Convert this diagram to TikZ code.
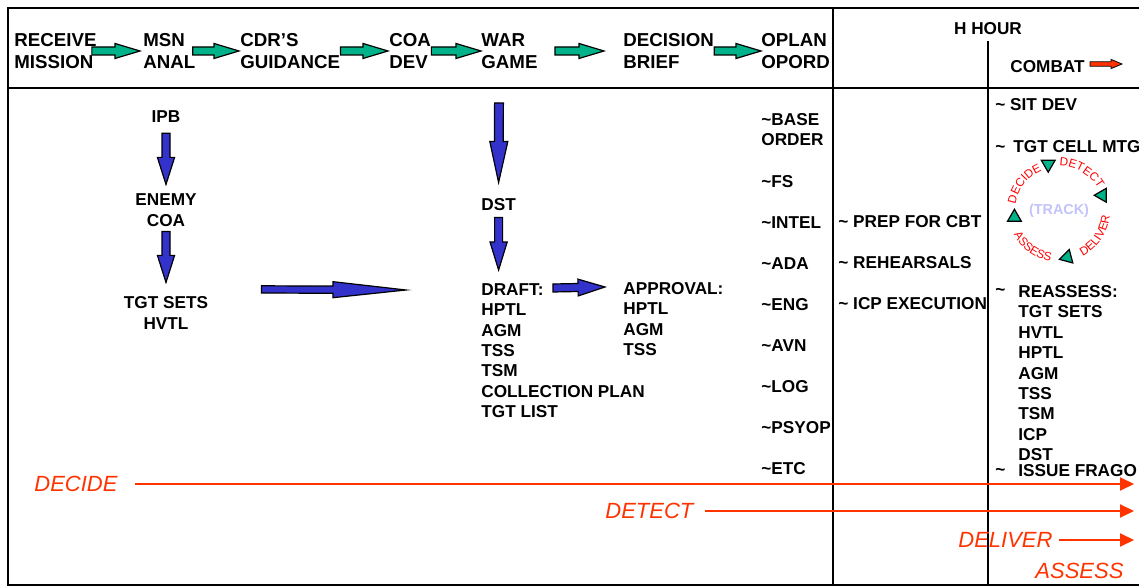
\documentclass[tikz,border=0pt]{standalone}
\usepackage{fontspec}
\setmainfont{Liberation Sans}
\usetikzlibrary{calc}
\usetikzlibrary{arrows.meta}
\usetikzlibrary{shapes.geometric}
\usetikzlibrary{decorations.text}
\definecolor{stepgreen}{RGB}{0,178,137}
\definecolor{flowblue}{RGB}{51,51,204}
\definecolor{phasered}{RGB}{255,51,0}
\definecolor{tracklilac}{RGB}{195,195,250}
\newcommand*{\hdrfont  }{\fontsize{9.35}{11}\selectfont\bfseries}
\newcommand*{\bodyfont }{\fontsize{8.6}{10.2}\selectfont\bfseries}
\newcommand*{\phasefont}{\fontsize{11}{13}\selectfont\itshape}
\newcommand*{\ringfont }{\fontsize{5.9}{7}\selectfont\color{red}}
\newcommand*{\sqig     }{\textasciitilde}
\newcommand*{\gshaft   }{2pt}
\newcommand*{\ghead    }{3.75pt}
\newcommand*{\glen     }{12.5pt}
% #1 style, #2 from, #3 to, #4 half shaft, #5 half head, #6 head length
\newcommand*{\blockarrow}[6]{%
    \coordinate (ba-s) at #2;
    \coordinate (ba-t) at #3;
    \coordinate (ba-h) at ($(ba-t)!#6!(ba-s)$);
    \draw [#1] ($(ba-s)!#4!90:(ba-t)$) -- ($(ba-h)!#4!-90:(ba-s)$) -- ($(ba-h)!#5!-90:(ba-s)$) -- (ba-t)
        -- ($(ba-h)!#5!90:(ba-s)$) -- ($(ba-h)!#4!90:(ba-s)$) -- ($(ba-s)!#4!-90:(ba-t)$) -- cycle;}

\begin{document}
\begin{tikzpicture}[x=0.5pt, y=-0.5pt, font=\bodyfont,
        stage/.style={font=\hdrfont, align=left, anchor=west, inner sep=0pt},
        entry/.style={inner sep=0pt},
        rule/.style={line width=0.9pt},
        greenblock/.style={draw=black, line width=0.6pt, fill=stepgreen},
        blueblock/.style={draw=black, line width=0.6pt, fill=flowblue},
        redblock/.style={draw=black, line width=0.4pt, fill=phasered},
        phaselbl/.style={font=\phasefont, text=phasered, inner sep=0pt, anchor=west},
        phaseline/.style={draw=phasered, line width=1pt, -{Triangle[length=7pt,width=6.5pt]}},
        ringtri/.style={regular polygon, regular polygon sides=3, minimum size=8pt, inner sep=0pt,
            fill=stepgreen, draw=black, line width=0.6pt}]
    \useasboundingbox (0,0) rectangle (1139,587);
    \draw [line width=1.3pt] (1150,8) -- (8,8) -- (8,585) -- (1150,585);
    \draw [rule] (8,88) -- (1150,88);
    \draw [rule] (833,8) -- (833,585);

    % planning steps
    \node [stage] (recv) at ( 14,51) {RECEIVE\\MISSION};
    \node [stage] (msn)  at (143,51) {MSN\\ANAL};
    \node [stage] (cdr)  at (240,51) {CDR’S\\GUIDANCE};
    \node [stage] (coa)  at (389,51) {COA\\DEV};
    \node [stage] (war)  at (481,51) {WAR\\GAME};
    \node [stage] (dec)  at (623,51) {DECISION\\BRIEF};
    \node [stage] (opl)  at (761,51) {OPLAN\\OPORD};
    \blockarrow{greenblock}{($(recv.east)+(-5,0)$)}{($(msn.west)+(-3,0)$)}{\gshaft}{\ghead}{\glen}
    \blockarrow{greenblock}{($(msn.east)+(-3,0)$)}{($(cdr.west)+(-1,0)$)}{\gshaft}{\ghead}{\glen}
    \blockarrow{greenblock}{(cdr.east)}{($(coa.west)+(-1,0)$)}{\gshaft}{\ghead}{\glen}
    \blockarrow{greenblock}{(coa.east)}{(war.west)}{\gshaft}{\ghead}{\glen}
    \blockarrow{greenblock}{($(war.east)+(17,0)$)}{($(dec.west)+(-19,0)$)}{\gshaft}{\ghead}{\glen}
    \blockarrow{greenblock}{(dec.east)}{(opl.west)}{\gshaft}{\ghead}{\glen}

    \node [entry] (hhour) at (988,29) {H HOUR};
    \draw [rule] ($(hhour.south)+(0,6)$) -- (hhour.south |- 0,585);
    \node [entry, anchor=west] (combat) at (1010,67) {COMBAT};
    \blockarrow{redblock}{($(combat.east)+(5,-3)$)}{($(combat.east)+(37,-3)$)}{1.1pt}{2.3pt}{5.5pt}

    % mission analysis
    \node [entry] (ipb) at (166,117) {IPB};
    \node [entry, align=center] (ecoa) at (166,210) {ENEMY\\COA};
    \node [entry, align=center] (tgt)  at (166,313) {TGT SETS\\HVTL};
    \blockarrow{blueblock}{($(ipb.south)+(0,10)$)}{($(ecoa.north)+(0,-9)$)}{2pt}{4.3pt}{13.5pt}
    \blockarrow{blueblock}{($(ecoa.south)+(0,5)$)}{($(tgt.north)+(0,-14)$)}{2pt}{4.3pt}{13.5pt}

    % war game
    \coordinate (wg-drop) at (499,103);
    \node [entry, anchor=west] (dst) at (481,205) {DST};
    \node [entry, align=left, anchor=north west] (draft) at (481,283) {DRAFT:\\HPTL\\AGM\\TSS\\TSM\\COLLECTION PLAN\\TGT LIST};
    \node [entry, align=left, anchor=north west] (appr)  at (623,282) {APPROVAL:\\HPTL\\AGM\\TSS};
    \blockarrow{blueblock}{(wg-drop)}{($(dst.north)+(0,-16)$)}{2.2pt}{4.5pt}{20.5pt}
    \blockarrow{blueblock}{($(dst.south)+(0,6)$)}{($(dst.south |- draft.north)+(0,-13)$)}{2pt}{4.3pt}{14pt}
    \blockarrow{blueblock}{($(tgt.north east)+(53,-7)$)}{($(draft.north west)+(-75,7)$)}{1.8pt}{4pt}{36.5pt}
    \blockarrow{blueblock}{($(draft.north west)+(72,5)$)}{($(appr.north west)+(-18,5)$)}{2pt}{4.2pt}{13.5pt}

    % orders
    \node [entry, align=left, anchor=north west] (opl-0) at (761,113) {\sqig BASE\\ORDER};
    \foreach \lbl [count=\i] in {FS,INTEL,ADA,ENG,AVN,LOG,PSYOP,ETC}
        \node [entry, anchor=west] (opl-\i) at (761,140+41.1*\i) {\sqig\lbl};
    \node [entry, anchor=west] (prep) at (838,222) {\sqig\ PREP FOR CBT};
    \node [entry, anchor=west] (reh)  at (838,263) {\sqig\ REHEARSALS};
    \node [entry, anchor=west] (icp)  at (838,304) {\sqig\ ICP EXECUTION};

    % combat
    \node [entry, anchor=west] (sitdev)  at (995,105) {\sqig\ SIT DEV};
    \node [entry, anchor=west] (cellmtg) at (995,147) {\sqig\hspace{4pt}TGT CELL MTG};
    \node [entry, anchor=west] (reas-tl) at (995,292) {\sqig};
    \node [entry, align=left, anchor=north west] (reas) at (1018,285) {REASSESS:\\TGT SETS\\HVTL\\HPTL\\AGM\\TSS\\TSM\\ICP\\DST};
    \node [entry, anchor=west] (frago-tl) at (995,472) {\sqig};
    \node [entry, anchor=west] (frago)    at (1018,471) {ISSUE FRAGO};

    \begin{scope}[shift={(1059,211)}, y=0.5pt]
        \node [entry, text=tracklilac, font=\fontsize{7.2}{8}\selectfont\bfseries] (track) at (0,0) {(TRACK)};
        \path [decorate, decoration={text along path, text align=center, text={|\ringfont|DECIDE}}]
            (176:44) arc[start angle=176, end angle=108, radius=44];
        \path [decorate, decoration={text along path, text align=center, text={|\ringfont|DETECT}}]
            (95:45) arc[start angle=95, end angle=24, radius=45];
        \path [decorate, decoration={text along path, text align=center, text={|\ringfont|DELIVER}}]
            (-74:51) arc[start angle=-74, end angle=6, radius=51];
        \path [decorate, decoration={text along path, text align=center, text={|\ringfont|ASSESS}}]
            (198:51) arc[start angle=198, end angle=270, radius=51];
        \node [ringtri, rotate=0]   (tri-w) at (188:45) {};
        \node [ringtri, rotate=180] (tri-n) at (103:48) {};
        \node [ringtri, rotate=90]  (tri-e) at (20:46) {};
        \node [ringtri, rotate=-15] (tri-s) at (280:47) {};
    \end{scope}

    % phases
    \node [phaselbl] (decide)  at (34,484)   {DECIDE};
    \node [phaselbl] (detect)  at (605,511)  {DETECT};
    \node [phaselbl] (deliver) at (958,540)  {DELIVER};
    \node [phaselbl] (assess)  at (1035,571) {ASSESS};
    \coordinate (phase-end) at (1134,486);
    \draw [phaseline] ($(decide.east)+(17,0)$)  -- (decide.east -| phase-end);
    \draw [phaseline] ($(detect.east)+(11,0)$)  -- (detect.east -| phase-end);
    \draw [phaseline] ($(deliver.east)+(6,0)$)  -- (deliver.east -| phase-end);
\end{tikzpicture}
\end{document}
